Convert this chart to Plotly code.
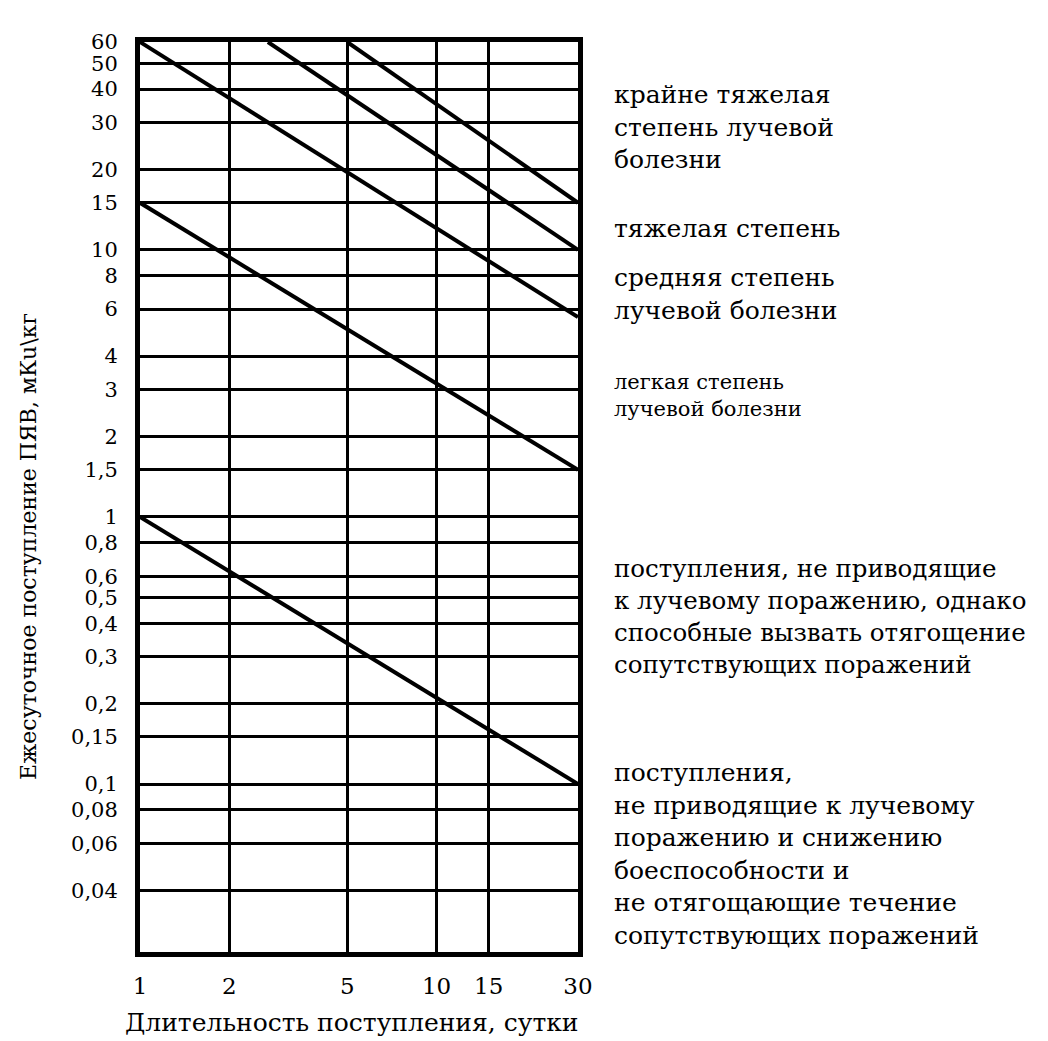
import plotly.graph_objects as go

# ---- data ----
days_ticks = [1, 2, 5, 10, 15, 30]
days_labels = ["1", "2", "5", "10", "15", "30"]

dose_ticks = [60, 50, 40, 30, 20, 15, 10, 8, 6, 4, 3, 2, 1.5, 1,
              0.8, 0.6, 0.5, 0.4, 0.3, 0.2, 0.15, 0.1, 0.08, 0.06, 0.04]
dose_labels = ["60", "50", "40", "30", "20", "15", "10", "8", "6", "4", "3", "2", "1,5", "1",
               "0,8", "0,6", "0,5", "0,4", "0,3", "0,2", "0,15", "0,1", "0,08", "0,06", "0,04"]

# boundary lines (start, end) in days and mKu/kg
line_days = [[1, 30], [2.7, 30], [5, 30], [1, 30], [1, 30]]
line_doses = [[60, 5.6], [60, 10], [60, 15], [15, 1.5], [1, 0.1]]

zone_texts = [
    "крайне тяжелая<br>степень лучевой<br>болезни",
    "тяжелая степень",
    "средняя степень<br>лучевой болезни",
    "легкая степень<br>лучевой болезни",
    "поступления, не приводящие<br>к лучевому поражению, однако<br>способные вызвать отягощение<br>сопутствующих поражений",
    "поступления,<br>не приводящие к лучевому<br>поражению и снижению<br>боеспособности и<br>не отягощающие течение<br>сопутствующих поражений",
]
zone_ypix = [127, 228, 294, 396, 616, 854]
zone_fsize = [25, 25, 25, 21, 24.5, 25]

x_title = "Длительность поступления, сутки"
y_title = "Ежесуточное поступление ПЯВ, мКu\\кг"

# ---- layout constants ----
OFF = 8                      # page body margin
W, H = 1048 - OFF, 1041 - OFF
PW, PH = 438, 910            # plot area size
L, T = 140 - OFF, 42 - OFF
R, B = W - L - PW, H - T - PH
FONT = "DejaVu Serif, Liberation Serif, serif"

fig = go.Figure()
for xs, ys in zip(line_days, line_doses):
    fig.add_trace(go.Scatter(x=xs, y=ys, mode="lines",
                             line=dict(color="black", width=4),
                             showlegend=False, hoverinfo="skip"))

annotations = []
for txt, yp, fs in zip(zone_texts, zone_ypix, zone_fsize):
    annotations.append(dict(
        text=txt, xref="paper", yref="paper", x=1, xshift=34,
        y=(42 + PH - yp) / PH, xanchor="left", yanchor="middle",
        align="left", showarrow=False,
        font=dict(family=FONT, size=fs, color="black")))

annotations.append(dict(text=x_title, xref="paper", yref="paper",
                        x=0.5, y=0, yshift=-70, xanchor="center", yanchor="middle",
                        showarrow=False, xshift=-7,
                        font=dict(family=FONT, size=25, color="black")))
annotations.append(dict(text=y_title, xref="paper", yref="paper",
                        x=0, xshift=-112, y=0.5, yshift=-50, textangle=-90,
                        xanchor="center", yanchor="middle", showarrow=False,
                        font=dict(family=FONT, size=22, color="black")))

fig.update_layout(
    width=W, height=H,
    margin=dict(l=L, r=R, t=T, b=B),
    paper_bgcolor="white", plot_bgcolor="white",
    font=dict(family=FONT, size=22, color="black"),
    annotations=annotations,
    showlegend=False,
)
fig.update_xaxes(type="log", range=[0, 1.4771],
                 tickvals=days_ticks, ticktext=days_labels,
                 showgrid=True, gridcolor="black", gridwidth=3,
                 showline=True, linecolor="black", linewidth=5, mirror=True,
                 ticks="", ticklabelstandoff=9,
                 tickfont=dict(family=FONT, size=23, color="black"))
fig.update_yaxes(type="log", range=[-1.629, 1.7782],
                 tickvals=dose_ticks, ticktext=dose_labels,
                 showgrid=True, gridcolor="black", gridwidth=3,
                 showline=True, linecolor="black", linewidth=5, mirror=True,
                 ticks="", ticklabelstandoff=13,
                 tickfont=dict(family=FONT, size=21, color="black"))

fig.write_html("out.html")
